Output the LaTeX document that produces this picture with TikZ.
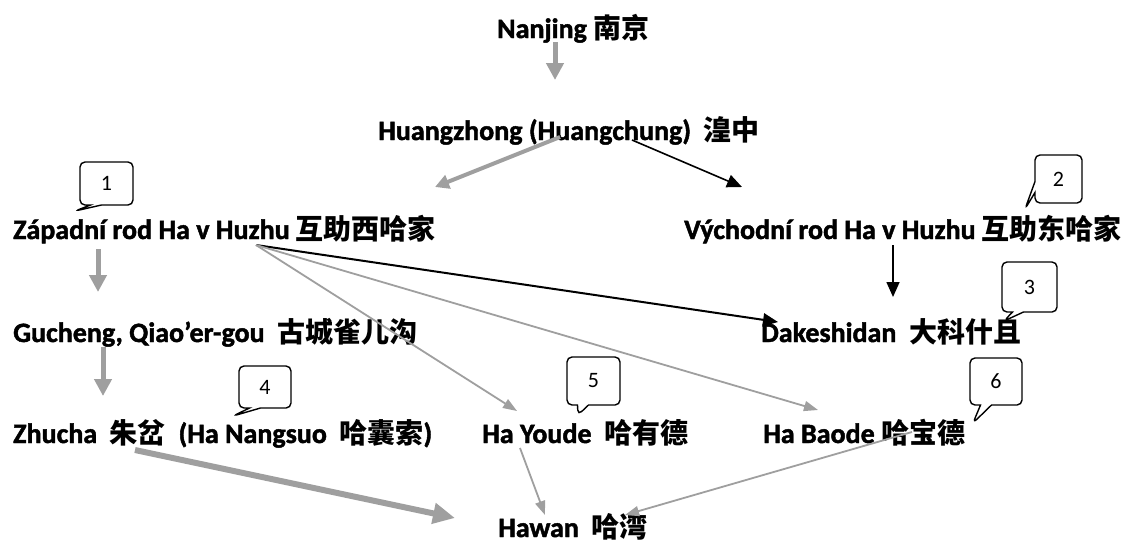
\documentclass[tikz,border=0pt]{standalone}
\usepackage{fontspec}
\setmainfont{Carlito-Regular.ttf}[BoldFont=Carlito-Bold.ttf, BoldFeatures={FakeBold=1.6}]
\newfontfamily\cjkfont{Noto Sans CJK SC}
\usetikzlibrary{arrows.meta,shapes.callouts,calc}
\newcommand\zh[1]{{\cjkfont #1}}
\begin{document}
\begin{tikzpicture}[x=1pt,y=-1pt,
  lbl/.style={anchor=base west, inner sep=0pt, font=\fontsize{28}{30}\selectfont\bfseries},
  fatgray/.style={draw=gray!75, line width=5pt, -{Triangle[width=17pt,length=17pt]}},
  thickgray/.style={draw=gray!75, line width=6pt, -{Triangle[width=20pt,length=22pt]}},
  medgray/.style={draw=gray!75, line width=4pt, -{Triangle[width=14pt,length=14pt]}},
  thingray/.style={draw=gray!75, line width=1.8pt, -{Triangle[width=10pt,length=14pt]}},
  blackarr/.style={draw=black, line width=1.6pt, -{Triangle[width=13pt,length=15pt]}},
  bubble/.style={rectangle callout, draw=black, line width=1.4pt, rounded corners=5pt,
    inner sep=0pt, callout pointer width=11pt, font=\fontsize{22}{24}\selectfont}
]
\useasboundingbox (0,0) rectangle (1131,544);

% nodes
\node[lbl] (nan) at (497,38) {Nanjing \zh{南京}};
\node[lbl] (hua) at (378,140) {Huangzhong (Huangchung)\ \ \zh{湟中}};
\node[lbl] (zap) at (13,239) {Západní rod Ha v Huzhu \zh{互助西哈家}};
\node[lbl] (vyc) at (684,239) {Východní rod Ha v Huzhu \zh{互助东哈家}};
\node[lbl] (guc) at (13,342) {Gucheng, Qiao’er-gou\ \ \zh{古城雀儿沟}};
\node[lbl] (dak) at (761,342) {Dakeshidan\ \ \zh{大科什且}};
\node[lbl] (zhu) at (13,443) {Zhucha\ \ \zh{朱岔}\ \ (Ha Nangsuo\ \ \zh{哈囊索})};
\node[lbl] (you) at (482,443) {Ha Youde\ \ \zh{哈有德}};
\node[lbl] (bao) at (763,443) {Ha Baode \zh{哈宝德}};
\node[lbl] (haw) at (498,537) {Hawan\ \ \zh{哈湾}};

% callouts
\node[bubble, minimum width=53pt, minimum height=43pt, callout absolute pointer={(75,211)}] (c1) at (106.5,183.5) {1};
\node[bubble, minimum width=47pt, minimum height=48pt, callout absolute pointer={(1025,209)}] (c2) at (1058.5,179) {2};
\node[bubble, minimum width=55pt, minimum height=50pt, callout absolute pointer={(1004,321)}] (c3) at (1029.5,287) {3};
\node[bubble, minimum width=52pt, minimum height=42pt, callout absolute pointer={(233,416)}] (c4) at (265,387) {4};
\node[bubble, minimum width=53pt, minimum height=48pt, callout absolute pointer={(578,415)}] (c5) at (593.5,381) {5};
\node[bubble, minimum width=52pt, minimum height=47pt, callout absolute pointer={(973,423)}] (c6) at (996,381.5) {6};

% connectors
\draw[fatgray] ($(nan.base west)+(58,4)$) -- ($(hua.base west)+(177,-60)$);
\draw[medgray] ($(hua.base west)+(182,-3)$) -- ($(zap.base west)+(422,-52)$);
\draw[blackarr] ($(hua.base west)+(254,0)$) -- ($(vyc.base west)+(58,-52)$);
\draw[fatgray] ($(zap.base west)+(85,10)$) -- ($(guc.base west)+(85,-50)$);
\draw[blackarr] ($(vyc.base west)+(209,6)$) -- ($(dak.base west)+(132,-45)$);
\draw[blackarr, line width=2pt] ($(zap.base west)+(243,6)$) -- ($(dak.base west)+(17,-20)$);
\draw[thingray] ($(zap.base west)+(243,6)$) -- ($(you.base west)+(35,-32)$);
\draw[thingray] ($(zap.base west)+(243,6)$) -- ($(bao.base west)+(55,-33)$);
\draw[fatgray] ($(guc.base west)+(90,5)$) -- ($(zhu.base west)+(90,-47)$);
\draw[thickgray] ($(zhu.base west)+(122,7)$) -- ($(haw.base west)+(-43,-19)$);
\draw[thingray] ($(you.base west)+(38,5)$) -- ($(haw.base west)+(47,-22)$);
\draw[thingray] ($(bao.base west)+(149,-11)$) -- ($(haw.base west)+(127,-22)$);
\end{tikzpicture}
\end{document}
